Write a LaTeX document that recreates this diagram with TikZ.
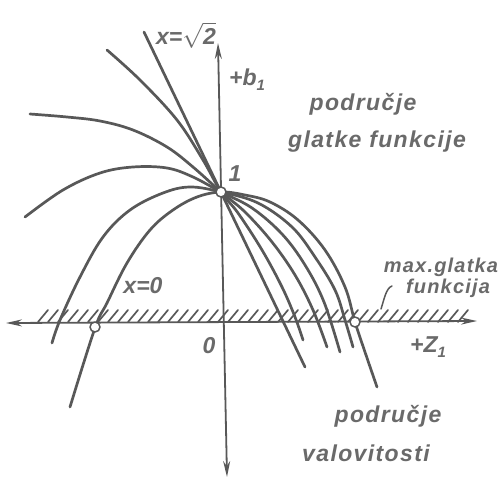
\documentclass[tikz,border=0pt]{standalone}
\usepackage{fontspec}
\setmainfont{Liberation Sans}
\newfontfamily\lblfont[LetterSpace=6]{Liberation Sans}
\usetikzlibrary{arrows.meta}
\definecolor{ink}{HTML}{585858}
\definecolor{txt}{HTML}{6A6A6A}
\tikzset{
  curve/.style={draw=ink, line width=2.7pt},
  axis/.style={draw=ink, line width=1.8pt},
  hatchline/.style={draw=ink, line width=1.7pt},
  dot/.style={circle, draw=ink, fill=white, line width=1.5pt, minimum size=10pt, inner sep=0pt},
  lbl/.style={text=txt, inner sep=0pt, font=\fontsize{23}{27}\selectfont\bfseries\itshape},
  wlbl/.style={text=txt, inner sep=0pt, font=\lblfont\fontsize{23}{27}\selectfont\bfseries\itshape},
  mlbl/.style={text=txt, inner sep=0pt, font=\lblfont\fontsize{20}{22}\selectfont\bfseries\itshape}
}
\begin{document}
\begin{tikzpicture}[x=1pt,y=-1pt,line cap=round,line join=round]
\fill[white] (0,0) rectangle (501,479);
\useasboundingbox (0,0) rectangle (501,479);

% hatched band
\foreach \x in {38,48,...,458} \draw[hatchline] (\x,322) -- ++(10,-12);

% axes
\coordinate (vt) at (218,43);
\coordinate (vb) at (227,477);
\coordinate (hl) at (6,323);
\coordinate (hr) at (477,321);
\draw[axis,{Stealth[length=16pt,width=7pt]}-{Stealth[length=16pt,width=7pt]}] (vb) -- (vt);
\draw[axis,{Stealth[length=16pt,width=7pt]}-{Stealth[length=16pt,width=7pt]}] (hl) -- (hr);

% family of curves
% x = sqrt2 (straight)
\draw[curve] (144,32) -- (305,367);
% curve 2
\draw[curve] plot[smooth,tension=0.6] coordinates {(107,50) (140,80) (177,120) (203,160) (221,192) (238,213) (262,250) (282,287) (295,317) (303,340)};
% curve 3
\draw[curve] plot[smooth,tension=0.6] coordinates {(30,114) (67,117) (100,121) (133,130) (167,147) (193,167) (221,192) (245,212) (272,242) (295,275) (313,310) (327,347)};
% curve 4
\draw[curve] plot[smooth,tension=0.6] coordinates {(25,217) (63,190) (100,173) (133,167) (167,168) (193,177) (221,192) (252,208) (282,234) (305,265) (324,302) (340,352)};
% curve 5
\draw[curve] plot[smooth,tension=0.6] coordinates {(52,343) (60,320) (80,277) (103,237) (130,210) (163,193) (190,187) (221,192) (258,203) (292,227) (315,257) (335,290) (345,320) (353,347)};
% x = 0
\draw[curve] plot[smooth,tension=0.6] coordinates {(70,407) (95,328) (107,303) (127,263) (150,230) (173,210) (197,197) (221,192) (245,195) (270,202) (298,220) (325,250) (345,287) (355,322) (366,355) (377,387)};

% marked points
\node[dot] (p1) at (221,192) {};
\node[dot] (pl) at (95,327) {};
\node[dot] (pr) at (355,322) {};

% leader to band
\coordinate (ls) at (392,286);
\coordinate (le) at (381,309);
\draw[ink,line width=1.5pt] (ls) .. controls (386,288) and (384,300) .. (le);

% labels
\node[lbl] (lsq) at (186,35) {x=$\sqrt{\mbox{2}}$};
\node[lbl] (lb) at (247,80) {+b\raisebox{-5pt}{\fontsize{15}{15}\selectfont 1}};
\node[lbl] (l1) at (235,174) {1};
\node[lbl] (l0) at (209,346) {0};
\node[lbl] (lz) at (428,347) {+Z\raisebox{-5pt}{\fontsize{15}{15}\selectfont 1}};
\node[lbl] (lx0) at (143,286) {x=0};
\node[mlbl] (lmax) at (441,267) {max.glatka};
\node[mlbl] (lfun) at (448,288) {funkcija};
\node[wlbl] (lp1) at (363,104) {područje};
\node[wlbl] (lgf) at (377,142) {glatke funkcije};
\node[wlbl] (lp2) at (388,416) {područje};
\node[wlbl] (lval) at (366,453) {valovitosti};
\end{tikzpicture}
\end{document}
